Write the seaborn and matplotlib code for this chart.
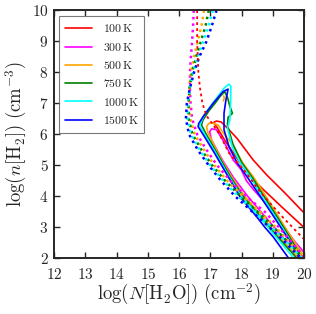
import matplotlib
matplotlib.use("Agg")
import matplotlib.pyplot as plt
import seaborn as sns
from matplotlib.ticker import FuncFormatter, MultipleLocator

sns.set_style("ticks")
plt.rcParams["mathtext.fontset"] = "cm"
plt.rcParams["font.family"] = ["DejaVu Serif"]

temps = ["100", "300", "500", "750", "1000", "1500"]
colors = ["red", "magenta", "orange", "green", "cyan", "blue"]

# solid curves (x = log N, y = log n)
solid_x = {
    "100": [20.0, 19.3, 18.7, 18.27, 17.89, 17.46, 17.2, 17.1, 17.2, 17.35, 17.6, 17.85,
            18.37, 18.8, 19.4, 20.0],
    "300": [19.95, 19.3, 19.05, 18.2, 17.75, 17.4, 17.04, 16.98, 17.05, 17.2, 17.46, 17.73,
            18.0, 18.16, 18.4, 18.8, 19.3, 19.7, 20.0],
    "500": [19.85, 19.2, 18.95, 18.1, 17.68, 17.36, 17.1, 16.93, 16.88, 16.95, 17.04, 17.25,
            17.45, 17.68, 18.05, 18.4, 18.78, 19.15, 19.55, 19.95],
    "750": [19.78, 19.15, 18.9, 18.05, 17.64, 17.22, 16.9, 16.72, 16.76, 16.95, 17.15, 17.31,
            17.46, 17.55, 17.63, 17.71, 17.57, 17.55, 17.72, 18.0, 18.35, 18.72, 19.1, 19.5,
            19.9],
    "1000": [19.68, 19.1, 18.85, 18.0, 17.6, 17.18, 16.85, 16.66, 16.7, 16.85, 17.15, 17.45,
             17.6, 17.66, 17.65, 17.63, 17.55, 17.7, 17.95, 18.3, 18.65, 19.05, 19.45, 19.85],
    "1500": [19.55, 19.01, 18.75, 18.48, 17.95, 17.57, 17.14, 16.8, 16.61, 16.63, 16.77,
             17.09, 17.41, 17.57, 17.5, 17.44, 17.44, 17.6, 17.85, 18.2, 18.6, 19.0, 19.45,
             19.92],
}
solid_y = {
    "100": [3.0, 3.65, 4.22, 4.64, 5.18, 5.82, 6.25, 6.38, 6.43, 6.4, 6.15, 5.88,
            5.18, 4.7, 4.1, 3.47],
    "300": [2.05, 2.7, 3.0, 4.0, 4.6, 5.15, 5.82, 6.09, 6.18, 6.15, 5.72, 5.18,
            4.85, 4.5, 4.2, 3.75, 3.1, 2.55, 2.2],
    "500": [2.0, 2.7, 3.0, 4.0, 4.64, 5.18, 5.7, 6.04, 6.25, 6.35, 6.38, 6.3,
            6.0, 5.72, 5.07, 4.6, 4.0, 3.4, 2.75, 2.15],
    "750": [2.0, 2.7, 3.0, 4.0, 4.64, 5.39, 5.95, 6.3, 6.45, 6.75, 7.0, 7.22,
            7.38, 7.2, 6.9, 6.68, 6.55, 6.3, 5.7, 5.1, 4.6, 4.0, 3.4, 2.75, 2.1],
    "1000": [2.0, 2.7, 3.0, 4.0, 4.64, 5.39, 5.95, 6.27, 6.4, 6.7, 7.1, 7.5,
             7.62, 7.55, 7.0, 6.47, 6.2, 5.6, 5.1, 4.6, 4.0, 3.4, 2.75, 2.05],
    "1500": [1.95, 2.7, 3.0, 3.35, 3.99, 4.64, 5.39, 5.95, 6.25, 6.35, 6.57,
             7.0, 7.38, 7.46, 7.1, 6.68, 6.15, 5.6, 5.1, 4.6, 4.0, 3.4, 2.7,
             2.0],
}

# small isolated orange piece near the peaks
blob_x = [17.42, 17.45, 17.43]
blob_y = [7.08, 7.18, 7.24]

# dotted curves
dot_y = [10, 9.5, 9, 8.5, 8, 7.5, 7, 6.5, 6, 5.5, 5, 4.5, 4, 3.5, 3, 2.5, 2]
dot_x = {
    "300": [16.47, 16.45, 16.42, 16.38, 16.35, 16.35, 16.37, 16.42, 16.58, 16.88,
            17.22, 17.65, 18.15, 18.75, 19.2, 19.63, 20.05],
    "500": [16.8, 16.72, 16.6, 16.48, 16.38, 16.33, 16.32, 16.36, 16.5, 16.8,
            17.13, 17.55, 18.05, 18.6, 19.1, 19.57, 20.0],
    "750": [16.95, 16.85, 16.7, 16.55, 16.42, 16.34, 16.3, 16.31, 16.43, 16.72,
            17.06, 17.48, 17.97, 18.52, 19.03, 19.52, 19.97],
    "1000": [17.08, 16.95, 16.78, 16.6, 16.45, 16.35, 16.28, 16.27, 16.38, 16.66,
             17.0, 17.42, 17.9, 18.45, 18.97, 19.47, 19.94],
    "1500": [17.2, 17.05, 16.88, 16.65, 16.48, 16.35, 16.25, 16.22, 16.32, 16.6,
             16.95, 17.35, 17.8, 18.35, 18.9, 19.42, 19.9],
}
red_dot_x = [16.58, 16.58, 16.6, 16.62, 16.67, 16.75, 16.88, 17.04, 17.3, 17.6,
             18.16, 18.59, 19.3, 20.0]
red_dot_y = [10, 9, 8.5, 8, 7.5, 7, 6.6, 6.38, 6.0, 5.4, 4.75, 4.15, 3.35, 2.62]

fig = plt.figure(figsize=(3.16, 3.14), dpi=100)
ax = fig.add_axes([0.171, 0.177, 0.791, 0.79])

for t, c in zip(temps, colors):
    sns.lineplot(x=solid_x[t], y=solid_y[t], sort=False, estimator=None, color=c,
                 lw=1.2, ax=ax, label=r"$%s\,\mathrm{K}$" % t)
sns.lineplot(x=blob_x, y=blob_y, sort=False, estimator=None, color="orange",
             lw=1.2, ax=ax)

for t, c in zip(temps[1:], colors[1:]):
    sns.lineplot(x=dot_x[t], y=dot_y, sort=False, estimator=None, color=c,
                 lw=1.8, ls=(0, (1, 1.6)), ax=ax)
sns.lineplot(x=red_dot_x, y=red_dot_y, sort=False, estimator=None, color="red",
             lw=1.3, ls=(0, (1.5, 1.8)), ax=ax)

ax.set_xlim(12, 20)
ax.set_ylim(2, 10)
ax.xaxis.set_major_locator(MultipleLocator(1))
ax.yaxis.set_major_locator(MultipleLocator(1))
fmt = FuncFormatter(lambda v, p: r"$%d$" % round(v))
ax.xaxis.set_major_formatter(fmt)
ax.yaxis.set_major_formatter(fmt)
ax.tick_params(direction="in", top=True, right=True, length=4, width=1,
               labelsize=11)
ax.tick_params(axis="x", pad=6)
ax.tick_params(axis="y", pad=4)
for s in ax.spines.values():
    s.set_linewidth(1.4)

ax.set_xlabel(r"$\log(N[\mathrm{H_2O}])\ (\mathrm{cm}^{-2})$", fontsize=13.5, labelpad=0)
ax.set_ylabel(r"$\log(n[\mathrm{H_2}])\ (\mathrm{cm}^{-3})$", fontsize=13.5, labelpad=2)

leg = ax.legend(loc="upper left", fontsize=8.5, fancybox=False, handlelength=2.3,
                labelspacing=0.45, borderpad=0.5, handletextpad=0.9,
                bbox_to_anchor=(0.01, 0.985), borderaxespad=0.2)
leg.get_frame().set_edgecolor("0.35")
leg.get_frame().set_linewidth(0.8)

fig.savefig("out.png", dpi=100)
